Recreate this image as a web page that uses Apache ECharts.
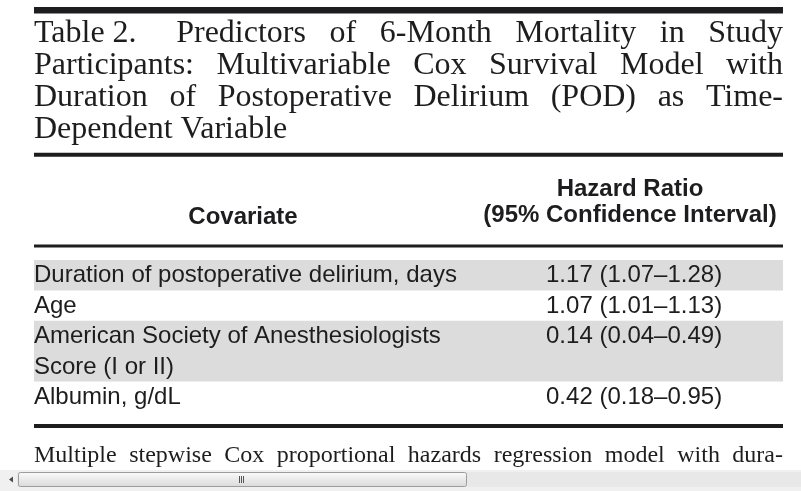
<!DOCTYPE html>
<html><head><meta charset="utf-8">
<script src="https://cdn.jsdelivr.net/npm/echarts@6/dist/echarts.min.js"></script>
<style>html,body{margin:0;padding:0;background:#fff;overflow:hidden}#c{width:801px;height:491px}</style>
</head><body><div id="c"></div>
<script>
// ---- content ----
const titleLines = [
  ['Table 2.', 'Predictors', 'of', '6-Month', 'Mortality', 'in', 'Study'],
  ['Participants:', 'Multivariable', 'Cox', 'Survival', 'Model', 'with'],
  ['Duration', 'of', 'Postoperative', 'Delirium', '(POD)', 'as', 'Time-'],
  ['Dependent', 'Variable']
];
const headerCovariate = 'Covariate';
const headerHazard = ['Hazard Ratio', '(95% Confidence Interval)'];
const covariates = [
  'Duration of postoperative delirium, days',
  'Age',
  'American Society of Anesthesiologists\nScore (I or II)',
  'Albumin, g/dL'
];
const hazardRatio = [1.17, 1.07, 0.14, 0.42];
const ciLower = [1.07, 1.01, 0.04, 0.18];
const ciUpper = [1.28, 1.13, 0.49, 0.95];
const footnoteWords = ['Multiple', 'stepwise', 'Cox', 'proportional', 'hazards', 'regression', 'model', 'with', 'dura-'];

// ---- styles ----
const INK = '#1d1d1f';
const SERIF = '"Liberation Serif", "Times New Roman", serif';
const SANS = '"Liberation Sans", Arial, sans-serif';
const LEFT = 34, RIGHT = 783;

const mctx = document.createElement('canvas').getContext('2d');
function justify(words, font, y, doJustify, firstExtra) {
  firstExtra = firstExtra || 0;
  mctx.font = font;
  const widths = words.map(w => mctx.measureText(w).width);
  const sum = widths.reduce((a, b) => a + b, 0);
  const n = words.length;
  const gap = doJustify ? (RIGHT - LEFT - sum - firstExtra) / (n - 1) : mctx.measureText(' ').width;
  let x = LEFT;
  const els = [];
  words.forEach((w, i) => {
    els.push({ type: 'text', x: x, y: y, silent: true,
      style: { text: w, font: font, fill: INK, align: 'left', verticalAlign: 'middle', textAlign: 'left', textVerticalAlign: 'middle' } });
    x += widths[i] + gap + (i === 0 ? firstExtra : 0);
  });
  return els;
}

const graphics = [];
// rules
graphics.push({ type: 'rect', shape: { x: LEFT, y: 7, width: RIGHT - LEFT, height: 6.5 }, style: { fill: INK }, silent: true });
graphics.push({ type: 'rect', shape: { x: LEFT, y: 152.8, width: RIGHT - LEFT, height: 4 }, style: { fill: INK }, silent: true });
graphics.push({ type: 'rect', shape: { x: LEFT, y: 244.5, width: RIGHT - LEFT, height: 3 }, style: { fill: INK }, silent: true });
graphics.push({ type: 'rect', shape: { x: LEFT, y: 424, width: RIGHT - LEFT, height: 4 }, style: { fill: INK }, silent: true });

// title
const titleFont = '32px ' + SERIF;
const titleMid = [34, 66, 98, 130];
titleLines.forEach((ws, i) => {
  const last = i === titleLines.length - 1;
  justify(ws, titleFont, titleMid[i], !last, i === 0 ? 16 : 0).forEach(e => graphics.push(e));
});

// header
const headFont = 'bold 24px ' + SANS;
graphics.push({ type: 'text', x: 243, y: 217, silent: true,
  style: { text: headerCovariate, font: headFont, fill: INK, align: 'center', verticalAlign: 'middle', textAlign: 'center', textVerticalAlign: 'middle' } });
headerHazard.forEach((t, i) => {
  graphics.push({ type: 'text', x: 630, y: 189 + i * 26, silent: true,
    style: { text: t, font: headFont, fill: INK, align: 'center', verticalAlign: 'middle', textAlign: 'center', textVerticalAlign: 'middle' } });
});

// footnote
justify(footnoteWords, '24px ' + SERIF, 456, true, 0).forEach(e => graphics.push(e));

// scrollbar (window chrome)
graphics.push({ type: 'rect', shape: { x: 0, y: 470, width: 801, height: 21 }, style: { fill: '#f0f0f0' }, silent: true });
graphics.push({ type: 'rect', shape: { x: 17, y: 472, width: 784, height: 15 }, style: { fill: '#e8e8e8' }, silent: true });
graphics.push({ type: 'polygon', shape: { points: [[9, 479.5], [13, 476.5], [13, 482.5]] }, style: { fill: '#4a4a4a' }, silent: true });
graphics.push({ type: 'rect', shape: { x: 18.5, y: 472.5, width: 448, height: 14, r: 2 },
  style: { fill: new echarts.graphic.LinearGradient(0, 0, 0, 1, [{ offset: 0, color: '#fbfbfb' }, { offset: 1, color: '#d9d9d9' }]), stroke: '#9c9c9c', lineWidth: 1 }, silent: true });
[239.5, 241.5, 243.5].forEach(x => graphics.push({ type: 'line', shape: { x1: x, y1: 476, x2: x, y2: 483 }, style: { stroke: '#555', lineWidth: 1 }, silent: true }));

// ---- rows data for custom series ----
const rowData = [];
let lineStart = 0;
covariates.forEach((c, i) => {
  const n = c.split('\n').length;
  rowData.push([0, lineStart, n, i]);
  lineStart += n;
});
const totalLines = lineStart;
const fmt = v => v.toFixed(2);

const chart = echarts.init(document.getElementById('c'), null, { renderer: 'canvas' });
chart.setOption({
  animation: false,
  backgroundColor: '#ffffff',
  grid: { left: LEFT, right: 801 - RIGHT, top: 260, height: 152 },
  xAxis: { type: 'value', min: 0, max: 1, show: false },
  yAxis: { type: 'value', min: 0, max: totalLines, inverse: true, show: false },
  graphic: { elements: graphics },
  series: [{
    type: 'custom',
    coordinateSystem: 'cartesian2d',
    clip: false,
    silent: true,
    encode: { x: 0, y: 1 },
    data: rowData,
    renderItem: function (params, api) {
      const start = api.value(1), n = api.value(2), idx = api.value(3);
      const top = api.coord([0, start])[1];
      const bottom = api.coord([0, start + n])[1];
      const lh = api.size([0, 1])[1];
      const cs = params.coordSys;
      const children = [];
      if (idx % 2 === 0) {
        children.push({ type: 'rect', shape: { x: cs.x, y: top, width: cs.width, height: bottom - top }, style: { fill: '#dcdcdc' } });
      }
      children.push({ type: 'text', x: cs.x, y: top + 0.5,
        style: { text: covariates[idx], font: '24px ' + SANS, fill: INK, lineHeight: lh, align: 'left', verticalAlign: 'top' } });
      children.push({ type: 'text', x: cs.x + cs.width * 0.6836, y: top + 0.5,
        style: { text: fmt(hazardRatio[idx]) + ' (' + fmt(ciLower[idx]) + '\u2013' + fmt(ciUpper[idx]) + ')', font: '24px ' + SANS, fill: INK, lineHeight: lh, align: 'left', verticalAlign: 'top' } });
      return { type: 'group', children: children };
    }
  }]
});
</script>
</body></html>
